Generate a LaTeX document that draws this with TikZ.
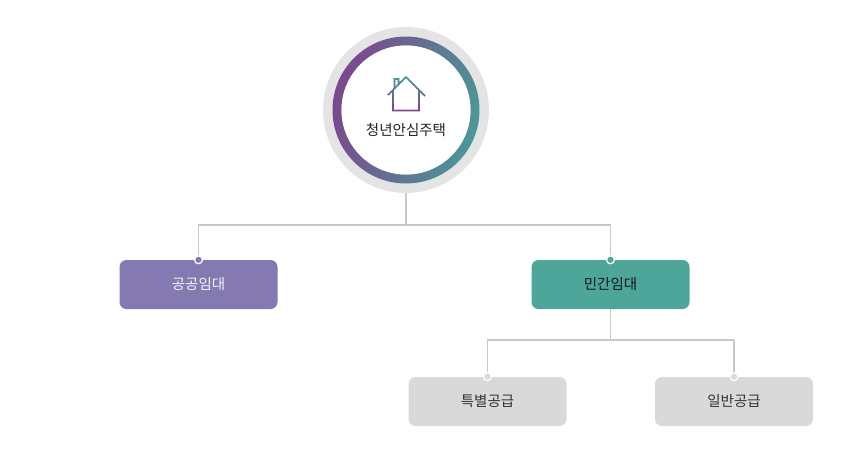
\documentclass[tikz,border=0pt]{standalone}
\usepackage{fontspec}
\setmainfont{Noto Sans CJK KR}
\usetikzlibrary{calc}
\definecolor{ringpurple}{RGB}{125,70,142}
\definecolor{ringteal}{RGB}{74,152,152}
\definecolor{ringgray}{RGB}{228,228,228}
\definecolor{pubcol}{RGB}{132,121,176}
\definecolor{privcol}{RGB}{78,166,154}
\definecolor{graycol}{RGB}{217,217,217}
\definecolor{linecol}{RGB}{200,200,200}
\definecolor{txtdark}{RGB}{34,34,34}
\tikzset{
  conn/.style={draw=linecol, line width=1.1pt},
  boxbase/.style={rectangle, rounded corners=7pt, minimum width=158pt, minimum height=49pt, inner sep=0pt, font=\fontsize{14.5pt}{17pt}\selectfont},
  pubbox/.style={boxbase, fill=pubcol, text=white!92!pubcol},
  privbox/.style={boxbase, fill=privcol, text=black!85!privcol},
  graybox/.style={boxbase, fill=graycol, text=black!80},
  housepath/.style={line width=1.6pt, line join=miter},
}
\begin{document}
\begin{tikzpicture}[x=1pt,y=-1pt]
\useasboundingbox (0,0) rectangle (845,451);
% main circle
\node[circle, minimum size=166pt, inner sep=0pt] (main) at (406,110) {};
\fill[ringgray] (main.center) circle (83);
\shade[left color=ringpurple, right color=ringteal, shading angle=75, even odd rule] (main.center) circle (73.5) (main.center) circle (64.5);
\fill[white] (main.center) circle (64.5);
% house icon with vertical colour gradient
\foreach \i in {0,...,11}{
  \pgfmathsetmacro{\pct}{100-\i*100/11}
  \begin{scope}
    \clip (380,{75+\i*3.25}) rectangle (432,{75+(\i+1)*3.25});
    \draw[housepath, draw=ringteal!\pct!ringpurple]
      (388,95) -- (406,77) -- (425,96)
      (393,90) -- (393,110.5) -- (419,110.5) -- (419,90)
      (394.5,88.5) -- (394.5,79) -- (398.5,79) -- (398.5,84.5);
  \end{scope}
}
\node[font=\fontsize{14.5pt}{17pt}\selectfont, text=txtdark] (title) at (406,130) {청년안심주택};
% boxes
\node[pubbox] (pub) at (198.5,284.5) {공공임대};
\node[privbox] (priv) at (610.5,284.5) {민간임대};
\node[graybox] (spec) at (487.5,401.5) {특별공급};
\node[graybox] (gen) at (734,401.5) {일반공급};
% connectors
\coordinate (j1) at (406,225);
\coordinate (j2) at (610.5,340);
\draw[conn] (main.south) -- (j1);
\draw[conn] (pub.north) |- (j1) -| (priv.north);
\draw[conn] (priv.south) -- (j2);
\draw[conn] (spec.north) |- (j2) -| (gen.north);
% dots
\foreach \n/\c in {pub/pubcol, priv/privcol, spec/graycol, gen/graycol}{
  \fill[white] (\n.north) circle (4.6);
  \fill[\c] (\n.north) circle (3.1);
}
\end{tikzpicture}
\end{document}
